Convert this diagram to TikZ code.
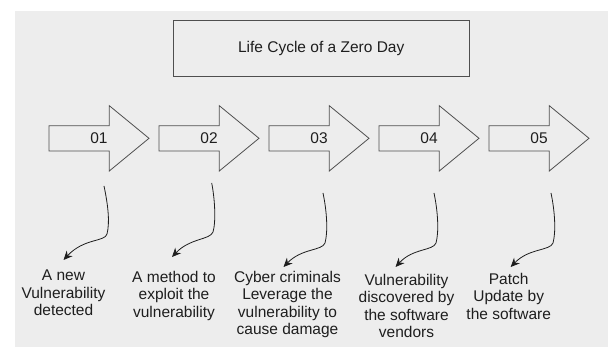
\documentclass[tikz,border=0pt]{standalone}
\usepackage{fontspec}
\setmainfont{Liberation Sans}
\usetikzlibrary{arrows.meta}

\definecolor{panel}{HTML}{EDEDED}
\definecolor{edge}{HTML}{4F4F4F}
\definecolor{ink}{HTML}{1E1E1E}

\tikzset{
  labelfont/.style={font=\fontsize{15.5}{17.4}\selectfont, text=ink},
  titlebox/.style={draw=edge, line width=0.9pt, minimum width=295.7pt,
    minimum height=55.6pt, inner sep=0pt, labelfont},
  stagearrow/.style={draw=edge, line width=0.8pt, line join=miter},
  stagenum/.style={inner sep=0pt, labelfont},
  caption/.style={anchor=north, inner sep=0pt, align=center, labelfont},
  curvelink/.style={draw=ink, line width=0.8pt,
    -{Stealth[length=9pt,width=8pt]}},
}

\begin{document}
\begin{tikzpicture}[x=1pt,y=-1pt]
  \path[use as bounding box] (0,0) rectangle (608,347);
  \fill[panel] (15,11) rectangle (608,347);

  % title
  \node[titlebox] (title) at (321.2,48.5) {Life Cycle of a Zero Day};

  % the five stage arrows with their numbers
  \foreach \i/\num in {1/01,2/02,3/03,4/04,5/05}{
    \pgfmathsetmacro{\ox}{110*(\i-1)}
    \begin{scope}[xshift=\ox pt]
      \draw[stagearrow] (49,125.7) -- (109.3,125.7) -- (109.3,105.7)
        -- (149,138.3) -- (109.3,171) -- (109.3,151) -- (49,151) -- cycle;
      \node[stagenum] (num\i) at (99,138.3) {\num};
    \end{scope}
  }

  % captions
  \node[caption] (cap1) at (63.5,270) {A new\\Vulnerability\\detected};
  \node[caption] (cap2) at (174,271) {A method to\\exploit the\\vulnerability};
  \node[caption] (cap3) at (287.5,271) {Cyber criminals\\Leverage the\\vulnerability to\\cause damage};
  \node[caption] (cap4) at (406.5,274) {Vulnerability\\discovered by\\the software\\vendors};
  \node[caption] (cap5) at (508.7,273) {Patch\\Update by\\the software};

  % free ends of the curved links, just below each arrow
  \coordinate (s1) at (104,186);
  \coordinate (s2) at (211.7,183);
  \coordinate (s3) at (323,193);
  \coordinate (s4) at (434,193);
  \coordinate (s5) at (551,193);

  \draw[curvelink] (s1) .. controls (108,205) and (110,222) .. (107,234)
    .. controls (105,242) and (84,238) .. ([yshift=10pt]cap1.north);
  \draw[curvelink] (s2) .. controls (215,200) and (216,222) .. (213,232)
    .. controls (210,240) and (190,238) .. ([xshift=-2pt,yshift=14pt]cap2.north);
  \draw[curvelink] (s3) .. controls (327,212) and (328,232) .. (325,243)
    .. controls (322,251) and (302,248) .. ([xshift=-4pt,yshift=4pt]cap3.north);
  \draw[curvelink] (s4) .. controls (438,212) and (439,232) .. (436,243)
    .. controls (433,251) and (413,248) .. ([xshift=-11pt,yshift=7pt]cap4.north);
  \draw[curvelink] (s5) .. controls (555,212) and (556,232) .. (553,243)
    .. controls (550,251) and (529,248) .. ([xshift=2pt,yshift=6pt]cap5.north);
\end{tikzpicture}
\end{document}
